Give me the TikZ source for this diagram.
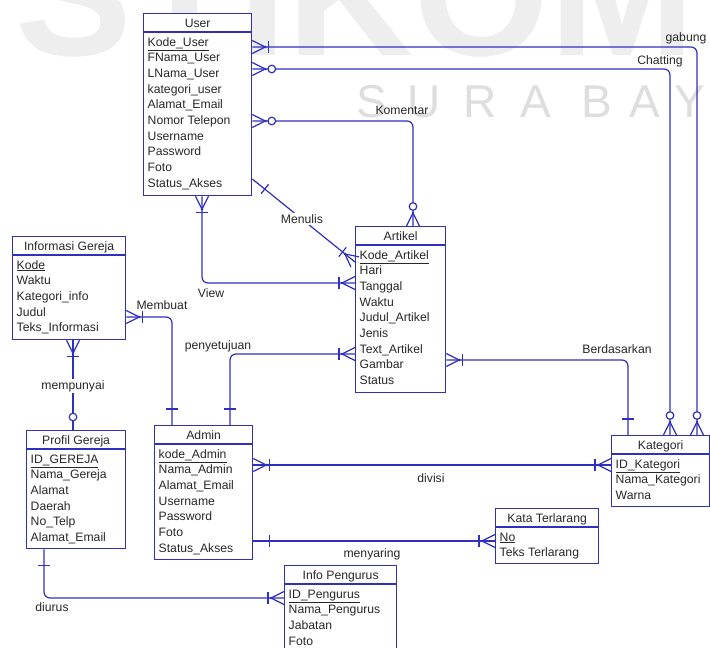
\documentclass[tikz,border=0pt]{standalone}
\usepackage{fontspec}
\setmainfont{Liberation Sans}
\usetikzlibrary{calc}
\definecolor{erblue}{RGB}{48,48,192}
\definecolor{ertext}{RGB}{40,40,40}
\definecolor{wmA}{RGB}{222,222,222}
\definecolor{wmB}{RGB}{238,238,238}
\newcommand\efont{\fontsize{12.2}{14}\selectfont}
\tikzset{
 ebox/.style={draw=erblue, line width=1.3pt, fill=white, inner sep=0pt, anchor=north west},
 hline/.style={draw=erblue, line width=1.3pt},
 etitle/.style={anchor=base, inner sep=0pt, text=ertext, font=\efont},
 erow/.style={anchor=base west, inner sep=0pt, text=ertext, font=\efont},
 rel/.style={draw=erblue, line width=1.2pt},
 rlabel/.style={anchor=base, inner sep=1.5pt, text=ertext, font=\efont},
 wmletter/.style={anchor=base, inner sep=0pt, text=wmA, font=\fontsize{46}{50}\selectfont},
 pics/footbar/.style={code={\draw[rel] (0,-6.5)--(13,0)--(0,6.5); \fill[erblue] (13,0) circle (1.4pt); \draw[rel] (16,-6)--(16,6);}},
 pics/footcirc/.style={code={\draw[rel] (0,-6.5)--(13,0)--(0,6.5); \fill[erblue] (13,0) circle (1.4pt); \draw[rel,fill=white] (19.5,0) circle (3.8pt);}},
 pics/onebar/.style={code={\draw[rel] (16,-6)--(16,6);}},
 pics/onecirc/.style={code={\draw[rel,fill=white] (13,0) circle (3.8pt);}},
}
\newcommand\entity[7]{%
 \node[ebox, minimum width=#4pt, minimum height=#5pt] (#1) at (#2,#3) {};
 \draw[hline] ($(#1.north west)+(0,19)$) -- ($(#1.north east)+(0,19)$);
 \node[etitle] (#1-t) at ($(#1.north)+(0,14)$) {#6};
 \foreach \r [count=\i] in {#7} {\node[erow] (#1-\i) at ($(#1.north west)+(4.5,33+15.67*\i-15.67)$) {\r};}
}
\begin{document}
\begin{tikzpicture}[x=1pt,y=-1pt]
\clip (0,0) rectangle (710,648);
\fill[white] (0,0) rectangle (710,648);
% watermark
\node[anchor=base west, inner sep=0pt, text=wmB, font=\bfseries\fontsize{175}{180}\selectfont] (wm1) at (15,55) {STIKOM};
\foreach \c/\xx [count=\k] in {S/372,U/424,R/480,A/536,B/597,A/645,Y/690,A/735}
  {\node[wmletter] (wmb\k) at (\xx,117) {\c};}
% entities
\entity{user}{143}{13}{108}{182}{User}{\underline{Kode\_User},FNama\_User,LNama\_User,kategori\_user,Alamat\_Email,Nomor Telepon,Username,Password,Foto,Status\_Akses}
\entity{art}{355}{226}{90}{166}{Artikel}{\underline{Kode\_Artikel},Hari,Tanggal,Waktu,Judul\_Artikel,Jenis,Text\_Artikel,Gambar,Status}
\entity{ig}{12}{236}{113}{103}{Informasi Gereja}{\underline{Kode},Waktu,Kategori\_info,Judul,Teks\_Informasi}
\entity{pg}{26}{430}{99}{118}{Profil Gereja}{\underline{ID\_GEREJA},Nama\_Gereja,Alamat,Daerah,No\_Telp,Alamat\_Email}
\entity{admin}{154}{425}{98}{134}{Admin}{\underline{kode\_Admin},Nama\_Admin,Alamat\_Email,Username,Password,Foto,Status\_Akses}
\entity{kat}{611}{435}{98}{71}{Kategori}{\underline{ID\_Kategori},Nama\_Kategori,Warna}
\entity{kt}{495}{508}{103}{55}{Kata Terlarang}{\underline{No},Teks Terlarang}
\entity{ip}{284}{565}{112}{95}{Info Pengurus}{\underline{ID\_Pengurus},Nama\_Pengurus,Jabatan,Foto}
% connector end points
\coordinate (u-gab) at (user.east |- 0,47);
\coordinate (k-gab) at (kat.north -| 697,0);
\coordinate (u-cht) at (user.east |- 0,69);
\coordinate (k-cht) at (kat.north -| 670,0);
\coordinate (u-kom) at (user.east |- 0,121);
\coordinate (a-kom) at (art.north -| 413,0);
\coordinate (u-men) at (user.east |- 0,179);
\coordinate (a-men) at (art.west |- 0,262);
\coordinate (u-vw) at (user.south -| 202,0);
\coordinate (a-vw) at (art.west |- 0,283);
\coordinate (i-mb) at (ig.east |- 0,317);
\coordinate (d-mb) at (admin.north -| 172,0);
\coordinate (i-mp) at (ig.south -| 73,0);
\coordinate (p-mp) at (pg.north -| 73,0);
\coordinate (d-pny) at (admin.north -| 230,0);
\coordinate (a-pny) at (art.west |- 0,354);
\coordinate (a-bds) at (art.east |- 0,360);
\coordinate (k-bds) at (kat.north -| 628,0);
\coordinate (d-div) at (admin.east |- 0,465);
\coordinate (k-div) at (kat.west |- 0,465);
\coordinate (d-mny) at (admin.east |- 0,541);
\coordinate (t-mny) at (kt.west |- 0,541);
\coordinate (p-dur) at (pg.south -| 44,0);
\coordinate (n-dur) at (ip.west |- 0,598);
% connectors
\draw[rel, rounded corners=6pt] (u-gab) -| (k-gab);
\draw[rel, rounded corners=6pt] (u-cht) -| (k-cht);
\draw[rel, rounded corners=6pt] (u-kom) -| (a-kom);
\draw[rel] (u-men) -- (a-men);
\draw[rel, rounded corners=6pt] (u-vw) |- (a-vw);
\draw[rel, rounded corners=6pt] (i-mb) -| (d-mb);
\draw[rel] (i-mp) -- (p-mp);
\draw[rel, rounded corners=6pt] (d-pny) |- (a-pny);
\draw[rel, rounded corners=6pt] (a-bds) -| (k-bds);
\draw[rel] (d-div) -- (k-div);
\draw[rel] (d-mny) -- (t-mny);
\draw[rel, rounded corners=6pt] (p-dur) |- (n-dur);
% ends
\pic[rotate=0] at (u-gab) {footbar};
\pic[rotate=90] at (k-gab) {footcirc};
\pic[rotate=0] at (u-cht) {footcirc};
\pic[rotate=90] at (k-cht) {footcirc};
\pic[rotate=0] at (u-kom) {footcirc};
\pic[rotate=90] at (a-kom) {footcirc};
\pic[rotate=-38.6] at (u-men) {onebar};
\pic[rotate=141.4] at (a-men) {footbar};
\pic[rotate=-90] at (u-vw) {footbar};
\pic[rotate=180] at (a-vw) {footbar};
\pic[rotate=0] at (i-mb) {footbar};
\pic[rotate=90] at (d-mb) {onebar};
\pic[rotate=-90] at (i-mp) {footbar};
\pic[rotate=90] at (p-mp) {onecirc};
\pic[rotate=90] at (d-pny) {onebar};
\pic[rotate=180] at (a-pny) {footbar};
\pic[rotate=0] at (a-bds) {footbar};
\pic[rotate=90] at (k-bds) {onebar};
\pic[rotate=0] at (d-div) {footbar};
\pic[rotate=180] at (k-div) {footbar};
\pic[rotate=0] at (d-mny) {onebar};
\pic[rotate=180] at (t-mny) {footbar};
\pic[rotate=-90] at (p-dur) {onebar};
\pic[rotate=180] at (n-dur) {footbar};
% labels
\node[rlabel] (l-gab) at (686,41) {gabung};
\node[rlabel] (l-cht) at (660,64) {Chatting};
\node[rlabel] (l-kom) at (402,114) {Komentar};
\node[rlabel, fill=white] (l-men) at (302,223) {Menulis};
\node[rlabel] (l-vw) at (211,297) {View};
\node[rlabel] (l-mb) at (162,309) {Membuat};
\node[rlabel] (l-pny) at (218,349) {penyetujuan};
\node[rlabel] (l-bds) at (617,353) {Berdasarkan};
\node[rlabel, fill=white] (l-mp) at (73,389) {mempunyai};
\node[rlabel] (l-div) at (431,482) {divisi};
\node[rlabel] (l-mny) at (372,557) {menyaring};
\node[rlabel] (l-dur) at (52,611) {diurus};
\end{tikzpicture}
\end{document}
